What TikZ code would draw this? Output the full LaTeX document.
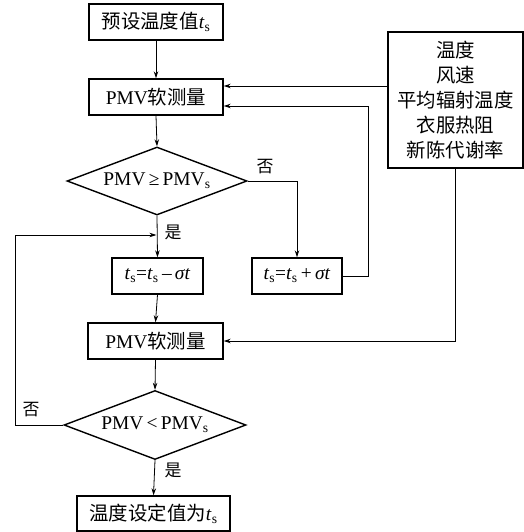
\documentclass[tikz,border=0pt]{standalone}
\usepackage{fontspec}
\setmainfont{Liberation Serif}
\newfontfamily\cjk{Noto Sans CJK SC}
\usetikzlibrary{shapes.geometric,arrows.meta}
\begin{document}
\begin{tikzpicture}[x=1bp,y=-1bp,
  box/.style={draw,line width=1.4bp,minimum height=36bp,inner sep=0pt},
  dia/.style={draw,diamond,line width=1.4bp,inner sep=0pt},
  arr/.style={-{Stealth[length=7bp,width=4.5bp]},line width=0.8bp},
  ln/.style={line width=0.8bp},
  lab/.style={font=\cjk\fontsize{17}{20}\selectfont,inner sep=0pt},
  font=\fontsize{19.5}{25}\selectfont]
\path[use as bounding box] (0,0) rectangle (524,532);
\node[box,minimum width=134bp] (b1) at (156,22) {{\cjk 预设温度值}\textit{t}\textsubscript{s}};
\node[box,minimum width=134bp] (p1) at (156,97) {PMV{\cjk 软测量}};
\node[box,minimum width=135bp,minimum height=136bp,align=center,font=\cjk\fontsize{19.5}{25.2}\selectfont] (info) at (455.5,100) {温度\\风速\\平均辐射温度\\衣服热阻\\新陈代谢率};
\node[dia,minimum width=180bp,minimum height=68bp] (d1) at (157,181) {};
\node (d1t) at (157,181) {PMV\,≥\,PMV\textsubscript{s}};
\node[box,minimum width=91bp] (tm) at (157.5,276) {\textit{t}\textsubscript{s}=\textit{t}\textsubscript{s}\,–\,\textit{σt}};
\node[box,minimum width=90bp] (tp) at (297,276) {\textit{t}\textsubscript{s}=\textit{t}\textsubscript{s}\,+\,\textit{σt}};
\node[box,minimum width=135bp] (p2) at (155.5,341) {PMV{\cjk 软测量}};
\node[dia,minimum width=182bp,minimum height=69bp] (d2) at (155,425) {};
\node (d2t) at (155,425) {PMV\,<\,PMV\textsubscript{s}};
\node[box,minimum width=153bp,minimum height=35bp] (fin) at (153.5,513.5) {{\cjk 温度设定值为}\textit{t}\textsubscript{s}};
\coordinate (y86) at (0,86);
\coordinate (y106) at (0,106);
\coordinate (xr2) at (368,0);
\coordinate (xl) at (15,0);
\coordinate (y235) at (0,235);
\draw[arr] (b1.south) -- (p1.north);
\draw[arr] (info.west|-y86) -- (p1.east|-y86);
\draw[arr] (p1.south) -- (d1.north);
\draw[arr] (d1.east) -| (tp.north);
\draw[arr] (d1.south) -- (tm.north);
\draw[arr] (tp.east) -| (xr2|-y106) -- (p1.east|-y106);
\draw[arr] (tm.south) -- (p2.north);
\draw[arr] (info.south) |- (p2.east);
\draw[arr] (p2.south) -- (d2.north);
\draw[arr] (d2.west) -| (xl|-y235) -- ([xshift=-0.6bp]d1.south|-y235);
\draw[arr] (d2.south) -- (fin.north);
\node[lab] (n1) at (265,167) {否};
\node[lab] (y1) at (173,232) {是};
\node[lab] (n2) at (31,410) {否};
\node[lab] (y2) at (173,470) {是};
\end{tikzpicture}
\end{document}
